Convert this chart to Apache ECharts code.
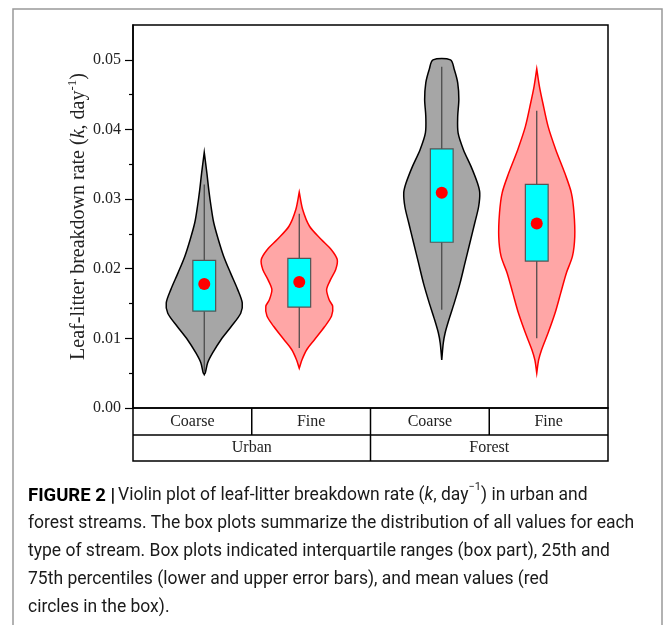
<!DOCTYPE html>
<html>
<head>
<meta charset="utf-8">
<script src="https://cdn.jsdelivr.net/npm/echarts@6/dist/echarts.min.js"></script>
<style>
  html, body { margin: 0; padding: 0; background: #fff; }
  #main { width: 663px; height: 625px; }
</style>
</head>
<body>
<div id="main"></div>
<script>
var chart = echarts.init(document.getElementById('main'));

// categories
var subCats = ['Coarse', 'Fine', 'Coarse', 'Fine'];
var groupCats = ['Urban', 'Forest'];
var violinPos = [0.75, 1.75, 3.25, 4.25];

// violin outlines: [k value, relative half width]
var urbanCoarse = [[0.0048, 0], [0.0051, 0.03], [0.0065, 0.09], [0.0079, 0.22], [0.0098, 0.44], [0.0117, 0.71],
  [0.0136, 0.96], [0.0151, 1.0], [0.0170, 0.88], [0.0194, 0.69], [0.0218, 0.51], [0.0242, 0.37],
  [0.0266, 0.25], [0.0289, 0.18], [0.0313, 0.12], [0.0337, 0.07], [0.0367, 0]];
var urbanFine = [[0.0057, 0], [0.0069, 0.07], [0.0084, 0.20], [0.0098, 0.40], [0.0117, 0.67], [0.0132, 0.85],
  [0.0146, 0.88], [0.0155, 0.79], [0.0170, 0.72], [0.0184, 0.82], [0.0199, 0.96], [0.0213, 1.0],
  [0.0227, 0.85], [0.0242, 0.58], [0.0261, 0.27], [0.0285, 0.09], [0.0310, 0]];
var forestCoarse = [[0.0069, 0], [0.0093, 0.04], [0.0108, 0.09], [0.0127, 0.19], [0.0151, 0.33], [0.0179, 0.48],
  [0.0208, 0.61], [0.0237, 0.74], [0.0266, 0.87], [0.0289, 0.97], [0.0309, 1.0], [0.0323, 0.94],
  [0.0347, 0.77], [0.0371, 0.57], [0.0395, 0.43], [0.0419, 0.42], [0.0443, 0.45], [0.0467, 0.42],
  [0.0486, 0.33], [0.0500, 0.23]];
var forestFine = [[0.0050, 0], [0.0069, 0.05], [0.0084, 0.13], [0.0108, 0.30], [0.0136, 0.48], [0.0165, 0.63],
  [0.0194, 0.78], [0.0218, 0.94], [0.0246, 1.0], [0.0280, 0.98], [0.0309, 0.91], [0.0337, 0.74],
  [0.0371, 0.50], [0.0404, 0.30], [0.0438, 0.16], [0.0462, 0.07], [0.0487, 0]];
var violins = [urbanCoarse, urbanFine, forestCoarse, forestFine];

// box plot stats
var whiskerLow = [0.0052, 0.0086, 0.0141, 0.0100];
var q1 = [0.0139, 0.0145, 0.0238, 0.0211];
var q3 = [0.0212, 0.0215, 0.0372, 0.0321];
var whiskerHigh = [0.0321, 0.0279, 0.0490, 0.0427];
var means = [0.0178, 0.0181, 0.0309, 0.0265];

// y ticks
var majorTicks = [0, 0.01, 0.02, 0.03, 0.04, 0.05];
var minorTicks = [0.005, 0.015, 0.025, 0.035, 0.045];

// styles
var fills = ['#a6a6a6', '#ffa6a6', '#a6a6a6', '#ffa6a6'];
var strokes = ['#000', '#ff0000', '#000', '#ff0000'];
var violinHalf = 0.4;
var boxHalf = 0.12;
var cellWidth = 1.25;
var serif = '"Liberation Serif", "Times New Roman", serif';

function renderViolin(params, api) {
  var i = params.dataIndex;
  var prof = violins[i];
  var x = violinPos[i];
  var right = [], left = [];
  prof.forEach(function (p) {
    right.push(api.coord([x + p[1] * violinHalf, p[0]]));
    left.unshift(api.coord([x - p[1] * violinHalf, p[0]]));
  });
  var pts = right.concat(left);
  var lo = api.coord([x - boxHalf, q1[i]]);
  var hi = api.coord([x + boxHalf, q3[i]]);
  var wl = api.coord([x, whiskerLow[i]]);
  var wh = api.coord([x, whiskerHigh[i]]);
  return {
    type: 'group',
    children: [{
      type: 'polygon',
      shape: { points: pts, smooth: 0.3 },
      style: { fill: fills[i], stroke: strokes[i], lineWidth: 1.5 }
    }, {
      type: 'line',
      shape: { x1: wl[0], y1: wl[1], x2: wh[0], y2: wh[1] },
      style: { stroke: '#444', lineWidth: 1.2 }
    }, {
      type: 'rect',
      shape: { x: lo[0], y: hi[1], width: hi[0] - lo[0], height: lo[1] - hi[1] },
      style: { fill: '#00ffff', stroke: '#555', lineWidth: 1.2 }
    }]
  };
}

var option = {
  backgroundColor: '#fff',
  animation: false,
  grid: {
    left: 133, top: 25, width: 475, height: 383,
    show: true, borderColor: '#000', borderWidth: 1.5
  },
  xAxis: {
    type: 'value', min: 0, max: 5,
    axisLine: { show: false }, axisTick: { show: false },
    axisLabel: { show: false }, splitLine: { show: false }
  },
  yAxis: [{
    type: 'value', min: 0, max: 0.055,
    axisLine: { show: true, lineStyle: { color: '#000', width: 1.5 } },
    axisTick: { show: true, inside: false, length: 8, customValues: majorTicks, lineStyle: { color: '#000', width: 1.2 } },
    axisLabel: {
      customValues: majorTicks, margin: 12,
      fontFamily: serif, fontSize: 16, color: '#222',
      formatter: function (v) { return v.toFixed(2); }
    },
    splitLine: { show: false },
    name: 'Leaf-litter breakdown rate ({i|k}, day{sup|-1})',
    nameLocation: 'middle', nameGap: 41, nameMoveOverlap: false,
    nameTextStyle: {
      fontFamily: serif, fontSize: 20, color: '#222',
      rich: {
        i: { fontFamily: serif, fontSize: 20, fontStyle: 'italic', color: '#222' },
        sup: { fontFamily: serif, fontSize: 13, color: '#222', verticalAlign: 'top', lineHeight: 26 }
      }
    }
  }, {
    type: 'value', min: 0, max: 0.055, position: 'left',
    axisLine: { show: false },
    axisTick: { show: true, length: 4, customValues: minorTicks, lineStyle: { color: '#000', width: 1.2 } },
    axisLabel: { show: false },
    splitLine: { show: false }
  }],
  series: [{
    type: 'custom',
    renderItem: renderViolin,
    data: violinPos.map(function (p, i) { return [p, means[i]]; }),
    z: 2
  }, {
    type: 'scatter',
    data: violinPos.map(function (p, i) { return [p, means[i]]; }),
    symbol: 'circle', symbolSize: 12,
    itemStyle: { color: '#ff0000', opacity: 1 },
    z: 5
  }]
};
chart.setOption(option);

// category table under the plot + caption + frame
function buildGraphics() {
  var y0 = chart.convertToPixel({ yAxisIndex: 0 }, 0);
  var y1 = y0 + 27, y2 = y1 + 26;
  var xAt = function (v) { return chart.convertToPixel({ xAxisIndex: 0 }, v); };
  var els = [];
  var line = { stroke: '#000', lineWidth: 1.5 };
  els.push({ type: 'rect', shape: { x: xAt(0), y: y0, width: xAt(5) - xAt(0), height: y2 - y0 }, style: { fill: 'none', stroke: '#000', lineWidth: 1.5 } });
  els.push({ type: 'line', shape: { x1: xAt(0), y1: y1, x2: xAt(5), y2: y1 }, style: line });
  subCats.forEach(function (c, i) {
    var a = xAt(i * cellWidth), b = xAt((i + 1) * cellWidth);
    if (i > 0) els.push({ type: 'line', shape: { x1: a, y1: y0, x2: a, y2: y1 }, style: line });
    els.push({ type: 'text', x: (a + b) / 2, y: (y0 + y1) / 2, style: { text: c, fontFamily: serif, fontSize: 16, fill: '#222', align: 'center', verticalAlign: 'middle' } });
  });
  groupCats.forEach(function (c, i) {
    var a = xAt(i * cellWidth * 2), b = xAt((i + 1) * cellWidth * 2);
    if (i > 0) els.push({ type: 'line', shape: { x1: a, y1: y1, x2: a, y2: y2 }, style: line });
    els.push({ type: 'text', x: (a + b) / 2, y: (y1 + y2) / 2, style: { text: c, fontFamily: serif, fontSize: 16, fill: '#222', align: 'center', verticalAlign: 'middle' } });
  });
  // figure frame
  els.push({ type: 'rect', shape: { x: 13, y: 9, width: 649, height: 700 }, style: { fill: 'none', stroke: '#999', lineWidth: 1.5 }, silent: true });
  // caption
  var sans = 'Roboto, "Liberation Sans", sans-serif';
  els.push({
    type: 'text', left: 28, top: 482,
    style: {
      text: '{b|FIGURE 2 |}Violin plot of leaf-litter breakdown rate ({i|k}, day{sup|\u22121}) in urban and\n' +
        'forest streams. The box plots summarize the distribution of all values for each\n' +
        'type of stream. Box plots indicated interquartile ranges (box part), 25th and\n' +
        '75th percentiles (lower and upper error bars), and mean values (red\n' +
        'circles in the box).',
      fontFamily: sans, fontSize: 17.5, fill: '#1a1a1a', lineHeight: 28,
      rich: {
        b: { fontFamily: sans, fontSize: 18.5, fontWeight: 'bold', fill: '#000', lineHeight: 28, padding: [0, 3, 0, 0] },
        i: { fontFamily: sans, fontSize: 17.5, fontStyle: 'italic', fill: '#1a1a1a', lineHeight: 28 },
        sup: { fontFamily: sans, fontSize: 11, fill: '#1a1a1a', verticalAlign: 'top', lineHeight: 21 }
      }
    }
  });
  chart.setOption({ graphic: { elements: els } });
}
buildGraphics();
</script>
</body>
</html>
